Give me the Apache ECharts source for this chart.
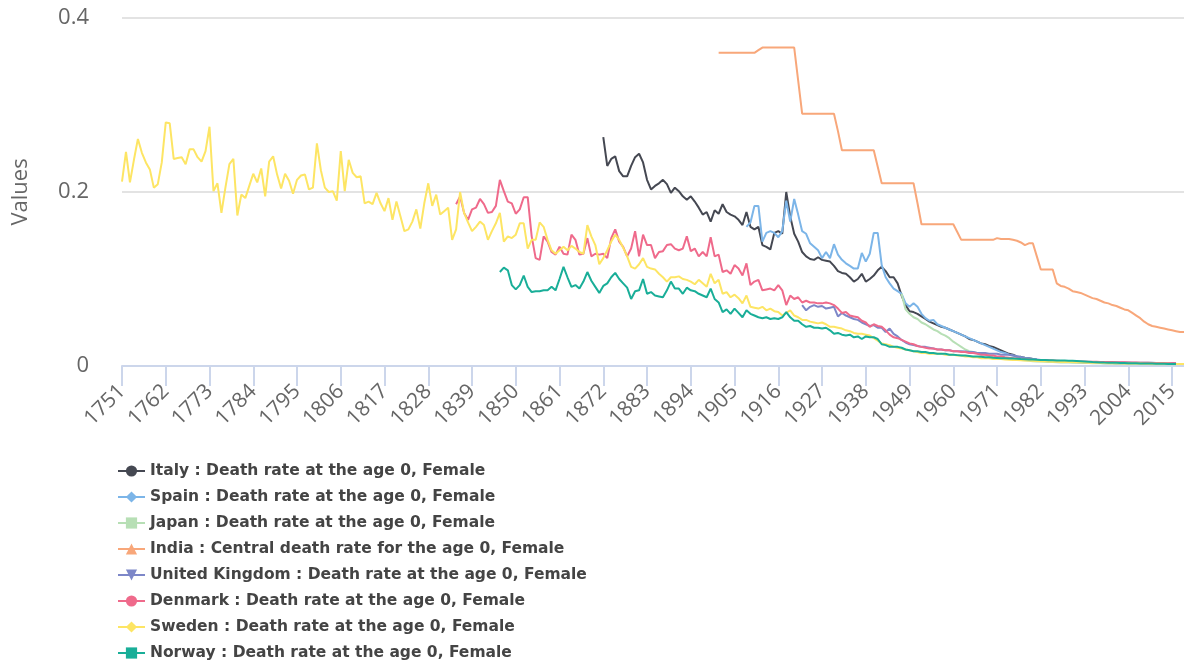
<!DOCTYPE html>
<html><head><meta charset="utf-8">
<script src="https://cdn.jsdelivr.net/npm/echarts@6/dist/echarts.min.js"></script>
<style>html,body{margin:0;padding:0;background:#fff}#c{width:1184px;height:666px}</style>
</head><body><div id="c"></div>
<script>
const firstYear = 1751, lastYear = 2018;
const years = [];
for (let y = firstYear; y <= lastYear; y++) years.push(String(y));

const seriesNames = [
  'Italy : Death rate at the age 0, Female',
  'Spain : Death rate at the age 0, Female',
  'Japan : Death rate at the age 0, Female',
  'India : Central death rate for the age 0, Female',
  'United Kingdom : Death rate at the age 0, Female',
  'Denmark : Death rate at the age 0, Female',
  'Sweden : Death rate at the age 0, Female',
  'Norway : Death rate at the age 0, Female'
];
const colors = ['#454852', '#7cb5e8', '#b7dfb5', '#f8a77a', '#7d87c8', '#ef6a8b', '#fde564', '#19ae98'];
const symbols = ['circle', 'diamond', 'rect', 'triangle', 'path://M0,0L10,0L5,9Z', 'circle', 'diamond', 'rect'];
const yTicks = [0, 0.2, 0.4];

const italyStart = 1872;
const italy = [
  0.263,0.230,0.238,0.241,0.224,0.218,0.218,0.230,0.240,
  0.244,0.234,0.214,0.203,0.207,0.210,0.214,0.209,0.199,0.205,
  0.201,0.195,0.191,0.195,0.189,0.182,0.174,0.177,0.166,0.179,
  0.175,0.186,0.177,0.174,0.172,0.168,0.162,0.177,0.160,0.157,
  0.160,0.139,0.137,0.134,0.153,0.155,0.152,0.200,0.172,0.152,
  0.143,0.131,0.126,0.123,0.122,0.125,0.122,0.121,0.120,0.115,
  0.109,0.107,0.106,0.102,0.097,0.100,0.106,0.097,0.100,0.104,
  0.110,0.114,0.109,0.102,0.102,0.095,0.081,0.070,0.063,0.062,
  0.060,0.057,0.054,0.051,0.049,0.047,0.045,0.044,0.042,0.040,
  0.038,0.036,0.034,0.031,0.030,0.028,0.026,0.025,0.023,0.022,
  0.020,0.018,0.016,0.014,0.013,0.011,0.0105,0.0095,0.0088,0.0080,
  0.0072,0.0066,0.0063,0.0060,0.0057,0.0055,0.0053,0.0051,0.0049,0.0047,
  0.0045,0.0043,0.0042,0.0040,0.0039,0.0038,0.0037,0.0036,0.0035,0.0034,
  0.0033,0.0032,0.0031,0.0031,0.0030,0.0029,0.0029,0.0028,0.0028,0.0027,
  0.0027,0.0026,0.0026,0.0025,0.0025,0.0025
];

const spainStart = 1908;
const spain = [
  0.160,0.165,0.184,
  0.184,0.143,0.153,0.155,0.153,0.148,0.155,0.190,0.166,0.192,
  0.174,0.155,0.152,0.141,0.137,0.133,0.124,0.131,0.124,0.140,
  0.128,0.122,0.118,0.115,0.112,0.112,0.130,0.120,0.129,0.153,
  0.153,0.116,0.102,0.095,0.089,0.086,0.083,0.072,0.068,0.072,
  0.068,0.060,0.055,0.052,0.053,0.048,0.046,0.044,0.042,0.040,
  0.038,0.036,0.034,0.032,0.030,0.028,0.026,0.024,0.022,0.020,
  0.018,0.016,0.015,0.013,0.012,0.011,0.010,0.0093,0.0087,0.0080,
  0.0073,0.0067,0.0063,0.0059,0.0056,0.0053,0.0051,0.0049,0.0047,0.0045,
  0.0043,0.0041,0.0040,0.0038,0.0036,0.0035,0.0034,0.0033,0.0032,0.0031,
  0.0030,0.0030,0.0029,0.0029,0.0028,0.0028,0.0027,0.0027,0.0026,0.0026,
  0.0025,0.0025,0.0025,0.0024,0.0024,0.0024
];

const japanStart = 1947;
const japan = [
  0.083,0.065,0.060,0.056,
  0.054,0.050,0.048,0.045,0.042,0.040,0.037,0.035,0.032,0.028,
  0.025,0.022,0.019,0.017,0.016,0.015,0.014,0.013,0.012,0.011,
  0.010,0.0095,0.009,0.0085,0.008,0.0075,0.007,0.0065,0.006,0.0055,
  0.0053,0.0051,0.0049,0.0047,0.0045,0.0043,0.0041,0.0040,0.0039,0.0038,
  0.0037,0.0036,0.0035,0.0034,0.0033,0.0032,0.0031,0.0030,0.0029,0.0028,
  0.0027,0.0026,0.0025,0.0025,0.0024,0.0023,0.0023,0.0022,0.0022,0.0021,
  0.0021,0.0020,0.0020,0.0019,0.0019,0.0018
];

const indiaStart = 1901;
const india = [
  0.360,0.360,0.360,0.360,0.360,0.360,0.360,0.360,0.360,0.360,
  0.363,0.366,0.366,0.366,0.366,0.366,0.366,0.366,0.366,0.366,
  0.328,0.290,0.290,0.290,0.290,0.290,0.290,0.290,0.290,0.290,
  0.270,0.248,0.248,0.248,0.248,0.248,0.248,0.248,0.248,0.248,
  0.229,0.210,0.210,0.210,0.210,0.210,0.210,0.210,0.210,0.210,
  0.187,0.163,0.163,0.163,0.163,0.163,0.163,0.163,0.163,0.163,
  0.154,0.145,0.145,0.145,0.145,0.145,0.145,0.145,0.145,0.145,
  0.147,0.146,0.146,0.146,0.145,0.144,0.142,0.139,0.141,0.141,
  0.126,0.111,0.111,0.111,0.111,0.095,0.092,0.091,0.089,0.086,
  0.085,0.084,0.082,0.080,0.078,0.077,0.075,0.073,0.072,0.070,
  0.069,0.067,0.065,0.064,0.061,0.058,0.055,0.051,0.048,0.046,
  0.045,0.044,0.043,0.042,0.041,0.040,0.039,0.039
];

const ukStart = 1922;
const uk = [
  0.070,0.064,0.068,0.070,0.068,0.069,0.066,0.067,0.068,
  0.057,0.061,0.058,0.056,0.054,0.053,0.050,0.048,0.046,0.047,
  0.044,0.044,0.039,0.043,0.037,0.034,0.030,0.027,0.025,0.024,
  0.023,0.022,0.022,0.021,0.020,0.019,0.019,0.018,0.018,0.017,
  0.017,0.017,0.0166,0.016,0.016,0.015,0.015,0.015,0.014,0.014,
  0.014,0.013,0.013,0.013,0.012,0.011,0.010,0.009,0.0085,0.008,
  0.0075,0.007,0.0065,0.006,0.0058,0.0055,0.0052,0.005,0.0048,0.0047,
  0.0046,0.0045,0.0044,0.0044,0.0043,0.0043,0.0042,0.0042,0.0041,0.0041,
  0.0040,0.0040,0.0039,0.0039,0.0038,0.0038,0.0037,0.0037,0.0036,0.0036,
  0.0035,0.0035,0.0034,0.0034,0.0033,0.0033
];

const denmarkStart = 1835;
const denmark = [
  0.186,0.195,0.176,0.168,0.180,0.182,
  0.192,0.186,0.176,0.177,0.184,0.214,0.201,0.189,0.187,0.175,
  0.180,0.194,0.194,0.149,0.124,0.122,0.149,0.143,0.131,0.128,
  0.137,0.129,0.128,0.151,0.145,0.128,0.129,0.147,0.126,0.129,
  0.128,0.129,0.124,0.147,0.157,0.143,0.137,0.126,0.135,0.155,
  0.126,0.151,0.139,0.139,0.124,0.131,0.132,0.139,0.140,0.135,
  0.133,0.135,0.149,0.132,0.135,0.126,0.131,0.126,0.148,0.126,
  0.128,0.108,0.110,0.106,0.116,0.112,0.104,0.118,0.093,0.097,
  0.099,0.087,0.088,0.089,0.087,0.093,0.087,0.070,0.081,0.077,
  0.079,0.073,0.075,0.073,0.073,0.072,0.072,0.073,0.072,0.070,
  0.066,0.061,0.062,0.058,0.057,0.056,0.052,0.050,0.045,0.048,
  0.046,0.045,0.041,0.036,0.033,0.032,0.030,0.028,0.026,0.025,
  0.023,0.022,0.021,0.020,0.020,0.019,0.019,0.018,0.018,0.017,
  0.017,0.016,0.016,0.015,0.015,0.014,0.013,0.013,0.012,0.012,
  0.011,0.011,0.010,0.0095,0.009,0.0085,0.008,0.0078,0.0075,0.0072,
  0.0070,0.0068,0.0066,0.0064,0.0062,0.0060,0.0058,0.0056,0.0055,0.0054,
  0.0053,0.0052,0.0051,0.0050,0.0049,0.0048,0.0047,0.0046,0.0045,0.0045,
  0.0044,0.0043,0.0042,0.0041,0.0040,0.0039,0.0038,0.0037,0.0036,0.0035,
  0.0035,0.0034,0.0034,0.0033,0.0033,0.0032
];

const swedenStart = 1751;
const sweden = [
  0.212,0.246,0.211,0.237,0.261,0.245,0.234,0.226,0.205,0.209,
  0.234,0.280,0.279,0.238,0.239,0.240,0.232,0.249,0.249,0.240,
  0.235,0.247,0.275,0.201,0.210,0.176,0.205,0.232,0.238,0.173,
  0.197,0.193,0.207,0.221,0.211,0.227,0.195,0.235,0.241,0.220,
  0.204,0.221,0.213,0.198,0.214,0.219,0.220,0.203,0.205,0.256,
  0.225,0.205,0.200,0.201,0.190,0.247,0.201,0.237,0.222,0.217,
  0.218,0.187,0.189,0.186,0.199,0.187,0.178,0.193,0.168,0.189,
  0.172,0.155,0.157,0.166,0.180,0.158,0.187,0.210,0.184,0.197,
  0.174,0.178,0.182,0.145,0.157,0.200,0.176,0.165,0.155,0.160,
  0.166,0.162,0.145,0.155,0.164,0.176,0.143,0.149,0.147,0.151,
  0.164,0.164,0.135,0.145,0.145,0.165,0.160,0.145,0.133,0.129,
  0.133,0.137,0.133,0.138,0.135,0.131,0.129,0.162,0.149,0.139,
  0.117,0.124,0.133,0.143,0.151,0.145,0.136,0.126,0.114,0.112,
  0.117,0.124,0.114,0.112,0.111,0.106,0.102,0.097,0.102,0.102,
  0.103,0.100,0.099,0.097,0.094,0.099,0.095,0.091,0.106,0.095,
  0.099,0.083,0.085,0.079,0.082,0.078,0.072,0.081,0.068,0.067,
  0.066,0.068,0.064,0.066,0.063,0.062,0.058,0.061,0.064,0.058,
  0.056,0.053,0.053,0.051,0.050,0.049,0.050,0.048,0.045,0.045,
  0.044,0.043,0.041,0.040,0.038,0.037,0.037,0.036,0.035,0.032,
  0.029,0.026,0.025,0.024,0.022,0.021,0.020,0.019,0.018,0.017,
  0.016,0.015,0.015,0.014,0.014,0.014,0.014,0.013,0.013,0.013,
  0.012,0.012,0.011,0.011,0.010,0.010,0.009,0.009,0.009,0.008,
  0.008,0.008,0.0075,0.0073,0.0070,0.0068,0.0066,0.0064,0.0062,0.0060,
  0.0058,0.0056,0.0054,0.0052,0.0050,0.0049,0.0047,0.0046,0.0045,0.0045,
  0.0043,0.0042,0.0040,0.0038,0.0037,0.0036,0.0035,0.0034,0.0033,0.0032,
  0.0031,0.0031,0.0030,0.0030,0.0029,0.0028,0.0028,0.0027,0.0027,0.0026,
  0.0026,0.0025,0.0025,0.0025,0.0024,0.0024,0.0024,0.0023
];

const norwayStart = 1846;
const norway = [
  0.108,0.113,0.110,0.093,0.088,
  0.093,0.104,0.091,0.085,0.086,0.086,0.087,0.087,0.091,0.087,
  0.100,0.114,0.102,0.091,0.093,0.089,0.097,0.108,0.098,0.091,
  0.084,0.092,0.095,0.102,0.107,0.100,0.095,0.090,0.077,0.086,
  0.087,0.100,0.083,0.085,0.081,0.080,0.079,0.087,0.097,0.089,
  0.089,0.083,0.090,0.087,0.086,0.083,0.081,0.079,0.089,0.077,
  0.073,0.062,0.065,0.060,0.066,0.061,0.056,0.064,0.060,0.058,
  0.056,0.055,0.056,0.054,0.055,0.054,0.056,0.062,0.056,0.052,
  0.052,0.048,0.045,0.046,0.044,0.044,0.043,0.044,0.041,0.037,
  0.038,0.036,0.035,0.036,0.033,0.034,0.031,0.034,0.033,0.033,
  0.031,0.025,0.024,0.022,0.022,0.022,0.021,0.019,0.018,0.017,
  0.017,0.016,0.016,0.015,0.015,0.014,0.014,0.014,0.013,0.013,
  0.0125,0.012,0.012,0.0115,0.011,0.011,0.0105,0.010,0.010,0.0095,
  0.0093,0.009,0.0088,0.0086,0.0085,0.0083,0.008,0.0078,0.0076,0.0075,
  0.0072,0.007,0.0068,0.0066,0.0065,0.0064,0.0063,0.0062,0.0061,0.0060,
  0.0057,0.0054,0.0051,0.0048,0.0045,0.0043,0.0041,0.0039,0.0038,0.0037,
  0.0036,0.0035,0.0034,0.0033,0.0032,0.0031,0.0030,0.0029,0.0028,0.0028,
  0.0027,0.0026,0.0025,0.0024,0.0023,0.0022
];

function place(start, vals) {
  const out = new Array(years.length).fill(null);
  vals.forEach((v, i) => { out[start - firstYear + i] = v; });
  return out;
}
const seriesData = [
  place(italyStart, italy), place(spainStart, spain), place(japanStart, japan),
  place(indiaStart, india), place(ukStart, uk), place(denmarkStart, denmark),
  place(swedenStart, sweden), place(norwayStart, norway)
];

const axisFont = '"Open Sans", sans-serif';
const chart = echarts.init(document.getElementById('c'), null, {renderer: 'canvas'});
chart.setOption({
  animation: false,
  color: colors,
  grid: {left: 122, right: 0, top: 18, bottom: 300, containLabel: false},
  xAxis: {
    type: 'category', data: years, boundaryGap: false,
    axisLine: {lineStyle: {color: '#ccd6eb', width: 2}},
    axisTick: {show: true, interval: 10, length: 20, lineStyle: {color: '#ccd6eb', width: 2}},
    axisLabel: {interval: 10, rotate: 45, margin: 22, color: '#666', fontSize: 21, fontFamily: axisFont},
    splitLine: {show: false}
  },
  yAxis: {
    type: 'value', min: yTicks[0], max: yTicks[2], interval: yTicks[1] - yTicks[0],
    name: 'Values', nameLocation: 'middle', nameGap: 90, nameRotate: 90,
    nameTextStyle: {color: '#666', fontSize: 22, fontFamily: axisFont},
    axisLabel: {color: '#666', fontSize: 22, margin: 33, fontFamily: axisFont},
    axisLine: {show: false}, axisTick: {show: false},
    splitLine: {lineStyle: {color: '#e3e3e3', width: 2}}
  },
  legend: {
    orient: 'vertical', left: 117, top: 463, padding: 0, itemWidth: 27, itemHeight: 14, itemGap: 10,
    textStyle: {color: '#444', fontSize: 15.5, fontWeight: 'bold', fontFamily: '"DejaVu Sans", sans-serif', lineHeight: 16},
    data: seriesNames
  },
  series: seriesNames.map((n, i) => ({
    name: n, type: 'line', data: seriesData[i], showSymbol: false, symbol: symbols[i], symbolSize: 10,
    connectNulls: false, lineStyle: {width: 2, color: colors[i]}, itemStyle: {color: colors[i]}
  }))
});
</script></body></html>
